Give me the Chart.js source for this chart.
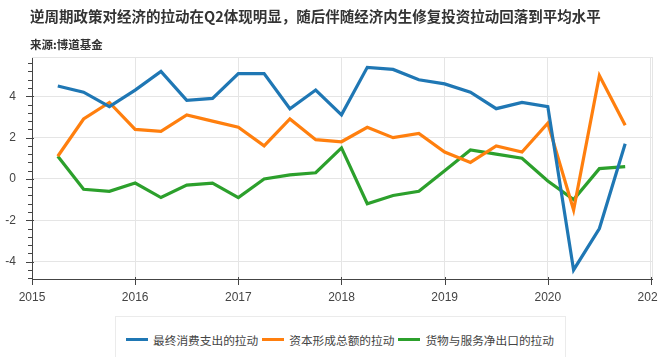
<!DOCTYPE html>
<html>
<head>
<meta charset="utf-8">
<script src="https://cdn.jsdelivr.net/npm/chart.js@4/dist/chart.umd.min.js"></script>
<style>
html,body{margin:0;padding:0;background:#fff;width:658px;height:357px;overflow:hidden;}
#wrap{position:relative;width:658px;height:357px;}
#c{position:absolute;left:0;top:0;}
.t{position:absolute;white-space:nowrap;font-family:"Noto Sans CJK SC","Noto Sans",sans-serif;font-weight:bold;color:#333;}
#title{left:30px;top:7px;font-size:14.5px;line-height:18px;}
#sub{left:30px;top:36px;font-size:11.5px;line-height:16px;}
#legend{position:absolute;left:115px;top:316px;width:451px;border:1px solid #ebebeb;box-sizing:border-box;background:#fff;
  display:flex;align-items:center;padding-left:10px;height:46px;}
#legend .it{display:flex;align-items:center;font-family:"Noto Sans CJK SC",sans-serif;font-size:11.7px;color:#444;white-space:nowrap;}
#legend .sw{width:22px;height:3px;margin-right:5px;}
#legend .lb{margin-right:4px;}
</style>
</head>
<body>
<div id="wrap">
<canvas id="c" width="658" height="357"></canvas>
<div class="t" id="title"></div>
<div class="t" id="sub"></div>
<div id="legend"></div>
</div>
<script>
const titleText = "逆周期政策对经济的拉动在Q2体现明显，随后伴随经济内生修复投资拉动回落到平均水平";
const subtitleText = "来源:博道基金";
// quarter positions on the year axis (2015Q1 ... 2020Q3)
const quarterPos = [2015.25,2015.5,2015.75,2016.0,2016.25,2016.5,2016.75,2017.0,2017.25,2017.5,2017.75,2018.0,
  2018.25,2018.5,2018.75,2019.0,2019.25,2019.5,2019.75,2020.0,2020.25,2020.5,2020.75];
const seriesNames = ["最终消费支出的拉动","资本形成总额的拉动","货物与服务净出口的拉动"];
const consumption = [4.5,4.2,3.5,4.3,5.2,3.8,3.9,5.1,5.1,3.4,4.3,3.1,5.4,5.3,4.8,4.6,4.2,3.4,3.7,3.5,-4.4,-2.4,1.7];
const investment  = [1.1,2.9,3.7,2.4,2.3,3.1,2.8,2.5,1.6,2.9,1.9,1.8,2.5,2.0,2.2,1.3,0.8,1.6,1.3,2.7,-1.5,5.0,2.6];
const netExports  = [1.1,-0.5,-0.6,-0.2,-0.9,-0.3,-0.2,-0.9,0.0,0.2,0.3,1.5,-1.2,-0.8,-0.6,0.4,1.4,1.2,1.0,-0.1,-1.0,0.5,0.6];
const seriesColors = ["#1f77b4","#ff7f0e","#2ca02c"];
const xTickYears = [2015,2016,2017,2018,2019,2020,2021];

document.getElementById('title').textContent = titleText;
document.getElementById('sub').textContent = subtitleText;

const allSeries = [consumption, investment, netExports];
const lg = document.getElementById('legend');
seriesNames.forEach((n,i)=>{
  const it=document.createElement('div'); it.className='it';
  const sw=document.createElement('span'); sw.className='sw'; sw.style.background=seriesColors[i];
  const lb=document.createElement('span'); lb.className='lb'; lb.textContent=n;
  it.appendChild(sw); it.appendChild(lb); lg.appendChild(it);
});

const isMajor = v => Math.abs(v/2 - Math.round(v/2)) < 1e-6;

const tickMarks = {
  id:'tickMarks',
  beforeDatasetsDraw(chart){
    const c=chart.ctx, a=chart.chartArea;
    c.save(); c.strokeStyle='#e5e5e5'; c.lineWidth=1;
    c.beginPath(); c.moveTo(a.left, a.top+0.5); c.lineTo(a.right+0.5, a.top+0.5);
    c.moveTo(a.right+0.5, a.top); c.lineTo(a.right+0.5, a.bottom); c.stroke();
    c.restore();
  },
  afterDraw(chart){
    const c=chart.ctx, a=chart.chartArea, ys=chart.scales.y, xs=chart.scales.x;
    c.save(); c.strokeStyle='#444'; c.lineWidth=1;
    c.beginPath();
    ys.ticks.forEach(t=>{
      const py=Math.round(ys.getPixelForValue(t.value))+0.5;
      const m=isMajor(t.value);
      c.moveTo(a.left-(m?6:4), py); c.lineTo(a.left+(m?2:0), py);
    });
    xs.ticks.forEach(t=>{
      const px=Math.round(xs.getPixelForValue(t.value))+0.5;
      c.moveTo(px, a.bottom-2); c.lineTo(px, a.bottom+6);
    });
    c.stroke(); c.restore();
  }
};

new Chart(document.getElementById('c'), {
  type:'line',
  data:{
    datasets: seriesNames.map((n,i)=>({
      label:n,
      data: quarterPos.map((x,j)=>({x:x, y:allSeries[i][j]})),
      borderColor: seriesColors[i],
      backgroundColor: seriesColors[i],
      borderWidth:3.2,
      pointRadius:0,
      tension:0,
      fill:false
    }))
  },
  options:{
    responsive:false,
    animation:false,
    devicePixelRatio:1,
    layout:{padding:{top:57,right:6,bottom:0,left:0}},
    plugins:{legend:{display:false},title:{display:false},tooltip:{enabled:false}},
    scales:{
      x:{
        type:'linear', min:2015, max:2021.01,
        afterFit(s){ s.paddingLeft=0; s.paddingRight=0; s.height=78; },
        afterBuildTicks(s){ s.ticks = xTickYears.map(v=>({value:v})); },
        ticks:{autoSkip:false, maxRotation:0, padding:11, color:'#444',
          font:{family:'"Liberation Sans", Arial, sans-serif', size:12},
          callback:v=>String(v)},
        grid:{color:'#e5e5e5', drawTicks:false},
        border:{color:'#444', width:1}
      },
      y:{
        min:-4.84, max:5.9,
        afterFit(s){ s.width=32; s.paddingTop=0; s.paddingBottom=0; },
        ticks:{stepSize:0.4, autoSkip:false, includeBounds:false, padding:16, color:'#444',
          font:{family:'"Liberation Sans", Arial, sans-serif', size:12},
          callback:v=> isMajor(v) ? String(Math.round(v)) : ''},
        grid:{color:ctx=> (ctx.tick && isMajor(ctx.tick.value)) ? '#e5e5e5' : 'rgba(0,0,0,0)', drawTicks:false},
        border:{color:'#444', width:1}
      }
    }
  },
  plugins:[tickMarks]
});
</script>
</body>
</html>
